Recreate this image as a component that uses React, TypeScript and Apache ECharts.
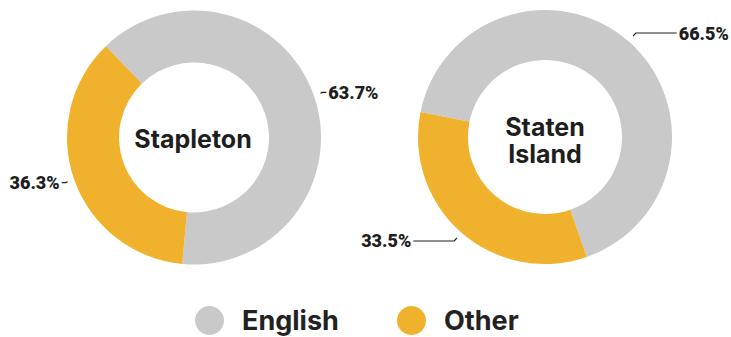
import React, { useEffect, useRef } from "react";
import * as echarts from "echarts";

const categories = ["English", "Other"];
const stapletonValues = [63.7, 36.3];
const statenIslandValues = [66.5, 33.5];
const placeNames = ["Stapleton", "Staten\nIsland"];
const colors = ["#c9c9c9", "#f0b12c"];

const FONT = "Inter, Roboto, 'Open Sans', sans-serif";
const LABEL_FONT = "Roboto, 'Liberation Sans', sans-serif";

export default function App() {
  const ref = useRef<HTMLDivElement>(null);

  useEffect(() => {
    if (!ref.current) return;
    const chart = echarts.init(ref.current, undefined, { renderer: "svg" });

    const leftCenter = [194, 137.5];
    const rightCenter = [545, 137];

    const mkData = (vals: number[]) =>
      categories.map((c, i) => ({ name: c, value: vals[i], itemStyle: { color: colors[i] } }));

    const ring = (vals: number[], center: number[], inner: number, start: number) => ({
      type: "pie",
      center,
      radius: [inner, 127],
      startAngle: start,
      clockwise: true,
      silent: true,
      label: { show: false },
      labelLine: { show: false },
      emphasis: { disabled: true },
      data: mkData(vals),
    });

    const labels = (vals: number[], center: number[], start: number, len: number, len2: number) => ({
      type: "pie",
      center,
      radius: [133, 134],
      startAngle: start,
      clockwise: true,
      silent: true,
      avoidLabelOverlap: false,
      itemStyle: { color: "transparent" },
      emphasis: { disabled: true },
      label: {
        show: true,
        formatter: "{c}%",
        color: "#1e1e1e",
        fontFamily: LABEL_FONT,
        fontWeight: 900,
        fontSize: 18,
        padding: [4, 0, 0, 0],
        distanceToLabelLine: 2,
      },
      labelLine: {
        show: true,
        length: len,
        length2: len2,
        smooth: false,
        lineStyle: { color: "#222", width: 1.2 },
      },
      data: categories.map((c, i) => ({ name: c, value: vals[i], itemStyle: { color: "transparent" } })),
    });

    const legendBase = {
      top: 306,
      padding: 0,
      icon: "circle",
      itemWidth: 29,
      itemHeight: 29,
      selectedMode: false,
      textStyle: {
        color: "#222",
        fontFamily: FONT,
        fontWeight: "bold",
        fontSize: 27,
        lineHeight: 27,
        padding: [0, 0, 0, 13],
      },
    };

    chart.setOption({
      animation: false,
      backgroundColor: "#ffffff",
      legend: [
        { ...legendBase, left: 195, data: [categories[0]] },
        { ...legendBase, left: 397, data: [categories[1]] },
      ],
      graphic: [
        {
          type: "text",
          x: leftCenter[0] - 1,
          y: leftCenter[1] + 1,
          style: {
            text: placeNames[0],
            fill: "#1e1e1e",
            fontFamily: FONT,
            fontWeight: "bold",
            fontSize: 25,
            align: "center",
            verticalAlign: "middle",
            textAlign: "center",
            textVerticalAlign: "middle",
          },
        },
        {
          type: "text",
          x: rightCenter[0],
          y: rightCenter[1] + 3,
          style: {
            text: placeNames[1],
            fill: "#1e1e1e",
            fontFamily: FONT,
            fontWeight: "bold",
            fontSize: 25,
            lineHeight: 27,
            align: "center",
            verticalAlign: "middle",
            textAlign: "center",
            textVerticalAlign: "middle",
          },
        },
      ],
      series: [
        ring(stapletonValues, leftCenter, 75, 134),
        labels(stapletonValues, leftCenter, 134, 2, 4),
        ring(statenIslandValues, rightCenter, 77, 168.6),
        labels(statenIslandValues, rightCenter, 168.6, 4, 41),
      ],
    });

    return () => chart.dispose();
  }, []);

  return (
    <div
      ref={ref}
      style={{ position: "fixed", left: 0, top: 0, width: 731, height: 337, background: "#fff" }}
    />
  );
}
